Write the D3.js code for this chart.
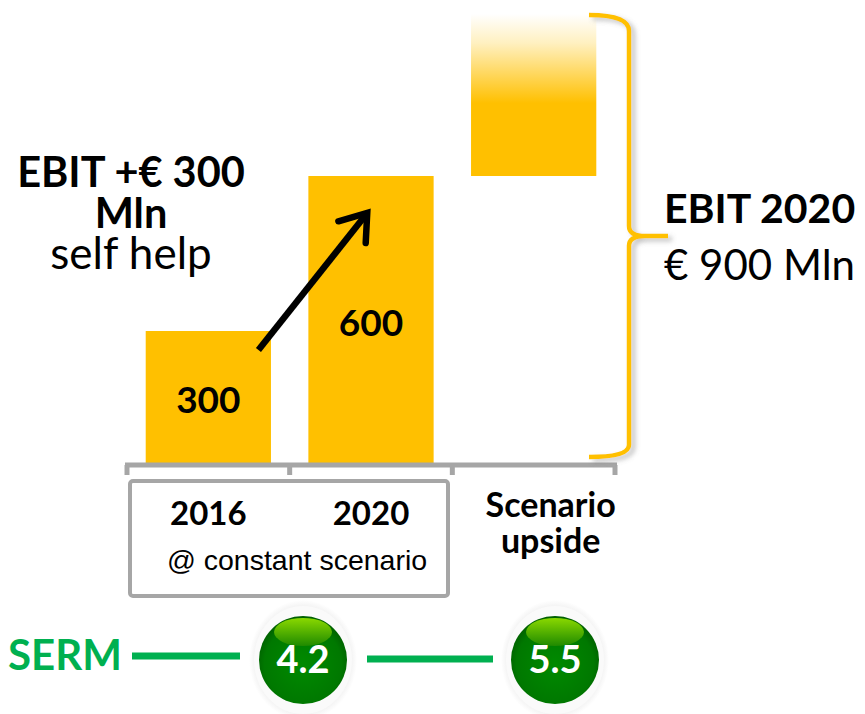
<!DOCTYPE html>
<html>
<head>
<meta charset="utf-8">
<script src="https://cdn.jsdelivr.net/npm/d3@7"></script>
<style>
  html, body { margin: 0; padding: 0; background: #fff; }
  svg { display: block; }
</style>
</head>
<body>
<div id="chart"></div>
<script>
/* ── data ─────────────────────────────────────────────── */
const categories = ['2016', '2020', 'Scenario upside'];
const barFrom    = [0, 0, 600];
const barTo      = [300, 600, 900];
const barLabels  = ['300', '600', ''];
const sermLabel  = 'SERM';
const sermValues = [4.2, 5.5];
const leftTitle  = ['EBIT +€ 300', 'Mln', 'self help'];
const rightTitle = ['EBIT 2020', '€ 900 Mln'];
const subLabel   = '@ constant scenario';

/* ── setup ────────────────────────────────────────────── */
const W = 865, H = 714;
const FONT = 'Lato, "Open Sans", sans-serif';
const YELLOW = '#FFC000', GREY = '#A6A6A6', GREEN = '#00B050';

const svg = d3.select('#chart').append('svg')
  .attr('width', W).attr('height', H).attr('viewBox', `0 0 ${W} ${H}`);
const defs = svg.append('defs');

const upGrad = defs.append('linearGradient').attr('id', 'upGrad')
  .attr('x1', 0).attr('y1', 0).attr('x2', 0).attr('y2', 1);
upGrad.append('stop').attr('offset', 0).attr('stop-color', '#ffffff');
upGrad.append('stop').attr('offset', 0.18).attr('stop-color', '#FFF0C0');
upGrad.append('stop').attr('offset', 0.55).attr('stop-color', YELLOW);
upGrad.append('stop').attr('offset', 1).attr('stop-color', YELLOW);

const shadow = defs.append('filter').attr('id', 'shadow')
  .attr('x', '-20%').attr('y', '-5%').attr('width', '140%').attr('height', '110%');
shadow.append('feDropShadow').attr('dx', 4).attr('dy', 3).attr('stdDeviation', 2.5)
  .attr('flood-color', '#777').attr('flood-opacity', 0.45);

const ballGrad = defs.append('radialGradient').attr('id', 'ballGrad')
  .attr('cx', '50%').attr('cy', '55%').attr('r', '55%');
ballGrad.append('stop').attr('offset', 0).attr('stop-color', '#008a00');
ballGrad.append('stop').attr('offset', 0.8).attr('stop-color', '#007800');
ballGrad.append('stop').attr('offset', 1).attr('stop-color', '#005e00');

const hiGrad = defs.append('linearGradient').attr('id', 'hiGrad')
  .attr('x1', 0).attr('y1', 0).attr('x2', 0).attr('y2', 1);
hiGrad.append('stop').attr('offset', 0).attr('stop-color', '#8ad800');
hiGrad.append('stop').attr('offset', 1).attr('stop-color', '#1f8a00');

const ringGrad = defs.append('radialGradient').attr('id', 'ringGrad')
  .attr('cx', '50%').attr('cy', '50%').attr('r', '50%');
ringGrad.append('stop').attr('offset', 0.8).attr('stop-color', '#e6e6e6');
ringGrad.append('stop').attr('offset', 0.9).attr('stop-color', '#f4f4f4');
ringGrad.append('stop').attr('offset', 1).attr('stop-color', '#ffffff');

/* ── scales ───────────────────────────────────────────── */
const axisY = 465;
const x = d3.scaleBand().domain(categories).range([127, 615])
  .paddingInner(0.23).paddingOuter(0.115);
// bars are not to scale in the original: zero sits below the axis line
const y = d3.scaleLinear().domain([0, 900]).range([486, 21]);

/* ── bars ─────────────────────────────────────────────── */
const bars = categories.map((c, i) => ({ c, from: barFrom[i], to: barTo[i], label: barLabels[i] }));

svg.selectAll('.bar').data(bars).join('rect')
  .attr('class', 'bar')
  .attr('x', d => x(d.c))
  .attr('width', x.bandwidth())
  .attr('y', d => y(d.to) - (d.from > 0 ? 7 : 0))
  .attr('height', d => Math.min(axisY, y(d.from)) - y(d.to) + (d.from > 0 ? 7 : 0))
  .attr('fill', d => d.from > 0 ? 'url(#upGrad)' : YELLOW);

svg.selectAll('.barLabel').data(bars.filter(d => d.label)).join('text')
  .attr('class', 'barLabel')
  .attr('x', d => x(d.c) + x.bandwidth() / 2)
  .attr('y', d => (y(d.to) + axisY) / 2 + 15)
  .attr('text-anchor', 'middle')
  .attr('font-family', FONT).attr('font-weight', 'bold').attr('font-size', 37)
  .attr('fill', '#000').text(d => d.label);

/* ── arrow 300 → 600 ──────────────────────────────────── */
const ax0 = x('2016') + x.bandwidth() * 0.9, ay0 = y(300) + 19;
const ax1 = x('2020') + x.bandwidth() * 0.47, ay1 = y(600) + 37;
const ang = Math.atan2(ay1 - ay0, ax1 - ax0);
const wing = 30, spread = 0.62;
svg.append('line')
  .attr('x1', ax0).attr('y1', ay0).attr('x2', ax1).attr('y2', ay1)
  .attr('stroke', '#000').attr('stroke-width', 6.5).attr('stroke-linecap', 'butt');
svg.append('path')
  .attr('d', `M${ax1 - wing * Math.cos(ang - spread)},${ay1 - wing * Math.sin(ang - spread)}
              L${ax1},${ay1}
              L${ax1 - wing * Math.cos(ang + spread)},${ay1 - wing * Math.sin(ang + spread)}`)
  .attr('fill', 'none').attr('stroke', '#000').attr('stroke-width', 6.5)
  .attr('stroke-linecap', 'round').attr('stroke-linejoin', 'miter');

/* ── axis line with ticks at band boundaries ──────────── */
const edges = [x.range()[0]].concat(categories.map(c => x(c) + x.bandwidth() + x.step() * x.paddingInner() / 2));
edges[edges.length - 1] = x.range()[1];
const axisG = svg.append('g');
axisG.append('line')
  .attr('x1', x.range()[0] - 2).attr('x2', x.range()[1] + 2)
  .attr('y1', axisY).attr('y2', axisY)
  .attr('stroke', GREY).attr('stroke-width', 5);
axisG.selectAll('.tick').data(edges).join('line')
  .attr('x1', d => d).attr('x2', d => d)
  .attr('y1', axisY).attr('y2', axisY + 10)
  .attr('stroke', GREY).attr('stroke-width', 5);

/* ── bracket ──────────────────────────────────────────── */
const bx = 629, bTop = y(900) - 6, bBot = axisY - 8, bMid = 236, bL = 589, bTip = 668;
svg.append('path')
  .attr('d', `M${bL},${bTop} Q${bx},${bTop} ${bx},${bTop + 16}
              L${bx},${bMid - 10} Q${bx},${bMid} ${bx + 16},${bMid} L${bTip},${bMid}
              M${bx + 16},${bMid} Q${bx},${bMid} ${bx},${bMid + 10}
              L${bx},${bBot - 12} Q${bx},${bBot} ${bL},${bBot}`)
  .attr('fill', 'none').attr('stroke', YELLOW).attr('stroke-width', 4.5)
  .attr('filter', 'url(#shadow)');

/* ── category box + labels ────────────────────────────── */
svg.append('rect')
  .attr('x', 130).attr('y', 481).attr('width', 318).attr('height', 115).attr('rx', 3)
  .attr('fill', 'none').attr('stroke', GREY).attr('stroke-width', 4);

['2016', '2020'].forEach(c => {
  svg.append('text')
    .attr('x', x(c) + x.bandwidth() / 2).attr('y', 525)
    .attr('text-anchor', 'middle')
    .attr('font-family', FONT).attr('font-weight', 'bold').attr('font-size', 33)
    .text(c);
});
svg.append('text')
  .attr('x', 297).attr('y', 570).attr('text-anchor', 'middle')
  .attr('font-family', '"Liberation Sans", Arial, sans-serif').attr('font-size', 28.5)
  .text(subLabel);

const upCx = x('Scenario upside') + x.bandwidth() / 2 + 17;
categories[2].split(' ').forEach((word, i) => {
  svg.append('text')
    .attr('x', upCx).attr('y', 517 + i * 36)
    .attr('text-anchor', 'middle')
    .attr('font-family', FONT).attr('font-weight', 'bold').attr('font-size', 34)
    .text(word);
});

/* ── titles ───────────────────────────────────────────── */
leftTitle.forEach((t, i) => {
  svg.append('text')
    .attr('x', 131).attr('y', 187 + i * 41)
    .attr('text-anchor', 'middle')
    .attr('font-family', FONT).attr('font-size', i < 2 ? 41.5 : 44)
    .attr('font-weight', i < 2 ? 'bold' : 'normal')
    .text(t);
});
rightTitle.forEach((t, i) => {
  svg.append('text')
    .attr('x', 664).attr('y', 223 + i * 57)
    .attr('font-family', FONT).attr('font-size', i === 0 ? 41 : 42)
    .attr('font-weight', i === 0 ? 'bold' : 'normal')
    .text(t);
});

/* ── SERM row ─────────────────────────────────────────── */
const sx = d3.scalePoint().domain(sermValues.map(String)).range([303, 555]);
const sy = 660;

svg.append('text')
  .attr('x', 8).attr('y', 670)
  .attr('font-family', FONT).attr('font-weight', 'bold').attr('font-size', 42)
  .attr('fill', GREEN).text(sermLabel);

svg.append('line')
  .attr('x1', 132).attr('x2', sx('4.2') - 63).attr('y1', 656).attr('y2', 656)
  .attr('stroke', GREEN).attr('stroke-width', 7);
svg.append('line')
  .attr('x1', sx('4.2') + 64).attr('x2', sx('5.5') - 62).attr('y1', 659).attr('y2', 659)
  .attr('stroke', GREEN).attr('stroke-width', 7);

const balls = svg.selectAll('.ball').data(sermValues).join('g')
  .attr('class', 'ball')
  .attr('transform', d => `translate(${sx(String(d))},${sy})`);
balls.append('ellipse').attr('rx', 54).attr('ry', 60).attr('fill', 'url(#ringGrad)');
balls.append('ellipse').attr('rx', 49).attr('ry', 54).attr('fill', '#fafafa');
balls.append('ellipse').attr('rx', 44).attr('ry', 44).attr('fill', 'url(#ballGrad)');
balls.append('ellipse').attr('cy', -28).attr('rx', 29).attr('ry', 14).attr('fill', 'url(#hiGrad)');
balls.append('text')
  .attr('y', 13).attr('text-anchor', 'middle')
  .attr('font-family', FONT).attr('font-weight', 'bold').attr('font-size', 38)
  .attr('fill', '#fff').text(d => d.toFixed(1));
</script>
</body>
</html>
